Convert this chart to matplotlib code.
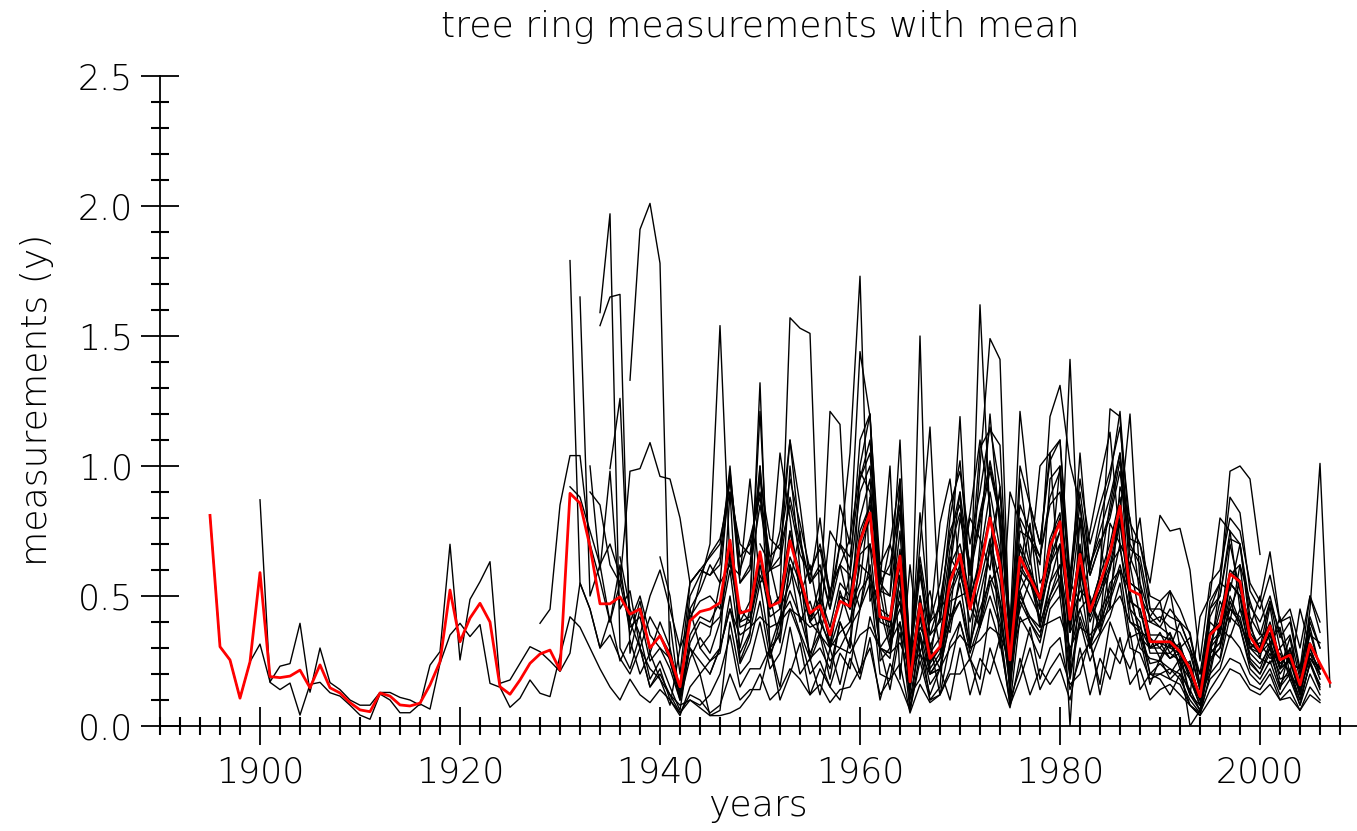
import matplotlib
matplotlib.use("Agg")
import matplotlib.pyplot as plt
from matplotlib import font_manager
from matplotlib.ticker import MultipleLocator, FormatStrFormatter

# ---- ring width series: (first year, yearly values) ----
ring_a_start = 1900
ring_a = [0.87, 0.168, 0.14, 0.165, 0.042, 0.16, 0.168, 0.128, 0.115, 0.08,
          0.042, 0.026, 0.123, 0.10, 0.051, 0.051, 0.085, 0.065, 0.241, 0.35,
          0.395, 0.344, 0.39, 0.164, 0.149, 0.072, 0.107, 0.177, 0.126, 0.113,
          0.27, 0.42, 0.38, 0.30, 0.22, 0.15, 0.10, 0.18, 0.12, 0.09,
          0.14, 0.10, 0.05, 0.10, 0.08, 0.12, 0.20, 0.35, 0.15, 0.22,
          0.22, 0.30, 0.15, 0.38, 0.20, 0.26, 0.12, 0.30, 0.16, 0.34,
          0.20, 0.42, 0.30, 0.14, 0.36, 0.12, 0.18, 0.32, 0.12, 0.22,
          0.40, 0.26, 0.18, 0.45, 0.32, 0.10, 0.22, 0.38, 0.18, 0.30,
          0.34, 0.14, 0.26, 0.32, 0.16, 0.40, 0.30, 0.22, 0.34, 0.16,
          0.26, 0.18, 0.22, 0.12, 0.06, 0.18, 0.22, 0.35, 0.30, 0.20,
          0.16, 0.22, 0.12, 0.18, 0.08, 0.20, 0.12]

ring_b_start = 1895
ring_b = [0.81, 0.305, 0.254, 0.107, 0.247,
          0.315, 0.17, 0.23, 0.24, 0.395, 0.13, 0.30, 0.167, 0.14, 0.10,
          0.08, 0.08, 0.129, 0.129, 0.11, 0.10, 0.08, 0.234, 0.286, 0.699,
          0.254, 0.487, 0.555, 0.632, 0.164, 0.177, 0.241, 0.305, 0.286, 0.25,
          0.21, 0.28, 0.55, 0.45, 0.30, 0.35, 0.26, 0.20, 0.30, 0.22,
          0.18, 0.12, 0.08, 0.10, 0.07, 0.04, 0.04, 0.05, 0.07, 0.12,
          0.20, 0.10, 0.14, 0.22, 0.18, 0.12, 0.16, 0.09, 0.14, 0.15,
          0.22, 0.30, 0.12, 0.18, 0.24, 0.05, 0.16, 0.09, 0.12, 0.20,
          0.20, 0.26, 0.12, 0.30, 0.18, 0.07, 0.26, 0.12, 0.22, 0.16,
          0.22, 0.10, 0.30, 0.12, 0.26, 0.18, 0.34, 0.16, 0.22, 0.10,
          0.14, 0.16, 0.12, 0.08, 0.04, 0.10, 0.15, 0.22, 0.20, 0.14,
          0.12, 0.16, 0.10, 0.11, 0.06, 0.12, 0.09]

ring_c_start = 1928
ring_c = [0.395, 0.449,
          0.85, 1.04, 1.04, 0.70, 0.56, 0.40, 0.62, 0.35, 0.48, 0.28,
          0.40, 0.30, 0.12, 0.45, 0.52, 0.62, 0.55, 0.98, 0.60, 0.72,
          0.88, 0.60, 0.75, 1.10, 0.72, 0.55, 0.80, 0.48, 0.85, 0.70,
          1.44, 1.19, 0.62, 0.70, 0.95, 0.25, 0.82, 0.40, 0.55, 0.85,
          0.98, 0.70, 0.90, 1.15, 0.92, 0.38, 1.21, 0.85, 0.70, 1.02,
          1.10, 0.58, 0.95, 0.70, 0.85, 0.98, 1.15, 0.78, 0.70, 0.50,
          0.48, 0.52, 0.45, 0.35, 0.15, 0.48, 0.55, 0.88, 0.82, 0.52,
          0.45, 0.58, 0.40, 0.42, 0.22, 0.50, 0.36]

ring_d_start = 1931
ring_d = [1.79, 0.55, 0.45, 0.30, 0.42, 0.25, 0.33, 0.20,
          0.28, 0.18, 0.08, 0.30, 0.40, 0.55, 0.70, 1.54, 0.62, 0.58,
          0.95, 0.55, 0.60, 1.05, 0.80, 0.50, 0.62, 0.40, 0.75, 0.68,
          1.05, 1.73, 0.48, 0.55, 1.00, 0.18, 0.62, 0.28, 0.40, 0.78,
          0.95, 0.60, 0.82, 1.10, 0.85, 0.30, 0.90, 0.78, 0.62, 1.00,
          1.05, 0.50, 1.41, 0.55, 0.75, 0.95, 1.13, 0.70, 0.62, 0.42,
          0.40, 0.38, 0.35, 0.28, 0.12, 0.42, 0.50, 0.80, 0.75, 0.45,
          0.38, 0.50, 0.32, 0.38, 0.20, 0.45, 0.30]

ring_e_start = 1932
ring_e = [1.65, 0.50, 0.62, 0.40, 0.55, 0.38, 0.42, 0.25,
          0.30, 0.22, 0.10, 0.26, 0.34, 0.28, 0.40, 0.60, 0.30, 0.45,
          1.32, 0.28, 0.36, 0.62, 0.50, 0.26, 0.30, 0.22, 0.40, 0.30,
          0.66, 0.70, 0.30, 0.26, 0.58, 0.12, 1.50, 0.20, 0.22, 0.40,
          0.55, 0.30, 0.50, 0.68, 0.44, 0.16, 0.52, 0.40, 0.34, 0.55,
          0.62, 0.26, 0.56, 0.30, 0.44, 0.52, 0.70, 0.40, 0.36, 0.24,
          0.25, 0.22, 0.20, 0.14, 0.06, 0.26, 0.30, 0.45, 0.42, 0.26,
          0.22, 0.32, 0.18, 0.20, 0.10, 0.24, 0.16]

ring_f_start = 1934
ring_f = [1.59, 1.97, 0.30, 0.22, 0.35, 0.18,
          0.25, 0.15, 0.06, 0.32, 0.40, 0.38, 0.42, 0.65, 0.38, 0.40,
          0.62, 0.42, 0.45, 0.65, 0.55, 0.40, 0.45, 1.21, 1.16, 0.45,
          0.68, 0.80, 0.40, 0.38, 0.62, 0.14, 0.45, 0.22, 0.28, 0.52,
          0.62, 0.45, 1.62, 0.80, 0.65, 0.22, 0.60, 0.55, 0.45, 0.65,
          0.75, 0.38, 0.62, 0.42, 0.52, 0.65, 0.82, 1.20, 0.55, 0.30,
          0.36, 0.28, 0.32, 0.18, 0.10, 0.30, 0.44, 0.58, 0.62, 0.30,
          0.34, 0.38, 0.22, 0.30, 0.14, 0.36, 0.22]

ring_g_start = 1934
ring_g = [1.54, 1.65, 1.66, 0.28, 0.45, 0.30,
          0.35, 0.25, 0.12, 0.42, 0.48, 0.50, 0.45, 0.70, 0.40, 0.48,
          1.21, 0.45, 0.50, 0.75, 0.58, 0.42, 0.48, 0.32, 0.50, 0.45,
          0.75, 0.85, 0.42, 0.40, 0.68, 0.16, 0.48, 0.24, 0.30, 0.58,
          0.65, 0.48, 1.00, 1.49, 1.41, 0.30, 0.68, 0.58, 0.50, 0.70,
          0.80, 0.42, 0.68, 0.45, 0.58, 0.70, 0.88, 0.55, 0.52, 0.34,
          0.30, 0.36, 0.26, 0.24, 0.10, 0.40, 0.36, 0.70, 0.52, 0.40,
          0.26, 0.46, 0.22, 0.34, 0.12, 0.38, 0.22]

ring_h_start = 1937
ring_h = [1.33, 1.91, 2.01,
          1.78, 0.25, 0.10, 0.35, 0.42, 0.40, 0.48, 0.68, 0.40, 0.42,
          0.65, 0.45, 0.50, 1.57, 1.53, 1.51, 0.45, 0.35, 0.50, 0.48,
          0.72, 0.85, 0.42, 0.40, 0.66, 0.18, 0.50, 0.25, 0.30, 0.58,
          1.19, 0.48, 0.65, 0.90, 0.68, 0.25, 0.70, 0.60, 0.50, 0.72,
          0.82, 0.40, 0.70, 0.45, 0.58, 1.22, 1.19, 0.55, 0.52, 0.35,
          0.35, 0.33, 0.30, 0.22, 0.12, 0.36, 0.40, 0.60, 0.56, 0.36,
          0.30, 0.40, 0.26, 0.28, 0.16, 0.32, 0.24]

ring_i_start = 1933
ring_i = [0.90, 0.85, 0.62, 0.55, 0.98, 0.99, 1.09,
          0.96, 0.95, 0.80, 0.55, 0.60, 0.58, 0.62, 0.95, 0.55, 0.60,
          0.85, 0.60, 0.62, 0.88, 0.70, 0.55, 0.60, 0.45, 0.62, 0.58,
          0.90, 1.00, 0.52, 0.50, 0.82, 0.25, 0.58, 0.35, 0.40, 0.68,
          0.82, 0.58, 0.78, 0.98, 0.80, 0.35, 0.80, 0.72, 0.62, 1.19,
          1.31, 1.01, 0.85, 0.58, 0.70, 0.82, 1.02, 0.68, 0.65, 0.45,
          0.45, 0.42, 0.40, 0.30, 0.20, 0.45, 0.55, 0.98, 1.00, 0.95,
          0.66]

ring_j_start = 1935
ring_j = [0.99, 1.26, 0.40, 0.30, 0.15,
          0.20, 0.12, 0.05, 0.12, 0.10, 0.05, 0.08, 0.20, 0.10, 0.14,
          0.14, 0.30, 0.10, 0.20, 0.32, 0.12, 0.22, 0.15, 0.10, 0.26,
          0.18, 0.34, 0.10, 0.24, 0.16, 0.06, 0.28, 0.12, 0.22, 0.10,
          0.30, 0.12, 0.26, 0.20, 0.34, 0.08, 0.18, 0.30, 0.14, 0.22,
          0.28, 0.16, 0.20, 0.34, 0.12, 0.30, 0.24, 0.36, 0.14, 0.20,
          0.18, 0.12, 0.20, 0.08, 0.05, 0.14, 0.20, 0.26, 0.24, 0.16,
          0.14, 0.20, 0.10, 0.14, 0.06, 0.15, 0.10]

ring_k_start = 1936
ring_k = [0.65, 0.45, 0.35, 0.50,
          0.60, 0.45, 0.30, 0.55, 0.60, 0.65, 0.70, 0.95, 0.65, 0.70,
          0.90, 0.65, 0.70, 0.95, 0.78, 0.60, 0.68, 0.50, 0.70, 0.65,
          0.95, 1.05, 0.60, 0.58, 0.90, 0.30, 0.65, 0.40, 0.45, 0.75,
          0.85, 0.62, 0.80, 1.02, 0.82, 0.40, 0.85, 0.75, 0.65, 0.88,
          0.98, 0.55, 0.90, 0.62, 0.75, 0.88, 1.05, 0.72, 0.70, 0.55,
          0.81, 0.75, 0.76, 0.60, 0.25, 0.55, 0.60, 0.80, 0.75, 0.55,
          0.48, 0.67, 0.40, 0.45, 0.30, 0.50, 0.40]

ring_l_start = 1938
ring_l = [0.30, 0.15,
          0.22, 0.10, 0.04, 0.15, 0.20, 0.04, 0.06, 0.40, 0.20, 0.25,
          0.40, 0.22, 0.28, 0.45, 0.35, 0.20, 0.25, 0.15, 0.28, 0.22,
          0.45, 0.55, 0.20, 0.18, 0.40, 0.06, 0.25, 0.10, 0.12, 0.32,
          0.40, 0.25, 0.38, 0.50, 0.38, 0.08, 0.42, 0.35, 0.26, 0.45,
          0.50, 0.18, 0.40, 0.25, 0.35, 0.42, 0.55, 0.30, 0.28, 0.18,
          0.20, 0.18, 0.16, 0.08, 0.04, 0.20, 0.25, 0.42, 0.38, 0.22,
          0.18, 0.25, 0.14, 0.30, 0.15, 0.45, 1.01, 0.15]

ring_m_start = 1940
ring_m = [0.65, 0.50, 0.20, 0.55, 0.60, 0.58, 0.65, 1.00, 0.55, 0.62,
          1.00, 0.60, 0.65, 1.10, 0.85, 0.55, 0.62, 0.45, 0.70, 0.60,
          1.10, 1.20, 0.55, 0.50, 1.10, 0.22, 0.70, 1.15, 0.40, 0.80,
          1.02, 0.58, 1.07, 1.14, 1.08, 0.32, 1.00, 0.85, 0.70, 1.05,
          1.10, 0.50, 1.05, 0.60, 0.80, 0.95, 1.21, 0.70, 0.62, 0.40,
          0.42, 0.38, 0.36, 0.28, 0.14, 0.42, 0.50, 0.75, 0.70, 0.42,
          0.35, 0.48, 0.30, 0.35, 0.18, 0.40]

ring_n_start = 1942
ring_n = [0.15, 0.45, 0.30, 0.35, 0.55, 0.62, 0.45, 0.40,
          0.58, 0.50, 0.32, 0.62, 0.40, 0.48, 0.35, 0.30, 0.52, 0.40,
          0.62, 0.58, 0.45, 0.30, 0.58, 0.22, 0.38, 0.30, 0.22, 0.48,
          0.50, 0.52, 0.38, 0.70, 0.48, 0.30, 0.52, 0.60, 0.38, 0.55,
          0.70, 0.40, 0.52, 0.48, 0.38, 0.62, 0.68, 0.50, 0.36, 0.34,
          0.26, 0.34, 0.22, 0.25, 0.10, 0.22, 0.40, 0.45, 0.55, 0.30,
          0.32, 0.26, 0.28, 0.20, 0.14, 0.30, 0.20]

ring_o_start = 1944
ring_o = [0.30, 0.25, 0.30, 0.45, 0.35, 0.38,
          0.42, 0.38, 0.40, 0.45, 0.42, 0.38, 0.40, 0.32, 0.30, 0.28,
          0.35, 0.38, 0.30, 0.28, 0.32, 0.22, 0.28, 0.20, 0.22, 0.30,
          0.35, 0.30, 0.33, 0.38, 0.35, 0.25, 0.40, 0.42, 0.38, 0.40,
          0.42, 0.30, 0.38, 0.35, 0.40, 0.45, 0.50, 0.40, 0.38, 0.30,
          0.32, 0.30, 0.28, 0.20, 0.10, 0.28, 0.32, 0.45, 0.40, 0.30,
          0.28, 0.32, 0.22, 0.26, 0.15, 0.26, 0.20]

ring_p_start = 1945
ring_p = [0.20, 0.30, 0.90, 0.25, 0.35,
          1.00, 0.30, 0.35, 1.00, 0.60, 0.25, 0.35, 0.18, 0.40, 0.30,
          1.00, 1.20, 0.25, 0.30, 0.95, 0.06, 0.35, 0.10, 0.15, 0.60,
          0.90, 0.30, 0.70, 1.20, 0.75, 0.10, 0.95, 0.65, 0.40, 0.95,
          1.00, 0.20, 0.80, 0.30, 0.60, 0.85, 1.05, 0.45, 0.40, 0.20,
          0.20, 0.22, 0.18, 0.10, 0.05, 0.25, 0.30, 0.55, 0.50, 0.25,
          0.20, 0.30, 0.15, 0.20, 0.08, 0.25, 0.15]

ring_q_start = 1950
ring_q = [0.70, 0.62, 0.45, 0.55, 0.75, 0.40, 0.35, 0.52, 0.62, 0.45,
          0.55, 0.88, 0.60, 0.35, 0.45, 0.30, 0.62, 0.25, 0.50, 0.42,
          0.80, 0.62, 0.40, 0.70, 0.90, 0.35, 0.55, 0.78, 0.45, 0.60,
          1.00, 0.55, 0.48, 0.62, 0.72, 0.45, 0.92, 0.80, 0.50, 0.42,
          0.48, 0.30, 0.40, 0.36, 0.16, 0.26, 0.55, 0.52, 0.70, 0.38,
          0.30, 0.48, 0.36, 0.24, 0.22, 0.40, 0.30]

ring_r_start = 1955
ring_r = [0.40, 0.55, 0.30, 0.42, 0.58,
          0.45, 0.70, 0.52, 0.32, 0.40, 0.22, 0.48, 0.30, 0.42, 0.36,
          0.58, 0.46, 0.38, 0.55, 0.62, 0.28, 0.45, 0.56, 0.40, 0.50,
          0.62, 0.36, 0.45, 0.50, 0.36, 0.55, 0.60, 0.52, 0.34, 0.30,
          0.32, 0.26, 0.30, 0.22, 0.12, 0.20, 0.38, 0.34, 0.45, 0.30,
          0.26, 0.24, 0.30, 0.18, 0.16, 0.26, 0.22]

ring_s_start = 1960
ring_s = [0.95, 1.10, 0.50, 0.70, 0.55, 0.28, 0.40, 0.52, 0.30, 0.65,
          0.58, 0.80, 0.72, 0.60, 0.92, 0.40, 0.60, 0.85, 0.55, 0.62,
          0.75, 0.55, 0.85, 0.48, 0.40, 0.78, 0.70, 0.62, 0.80, 0.45,
          0.40, 0.52, 0.30, 0.34, 0.20, 0.30, 0.48, 0.40, 0.62, 0.48,
          0.36, 0.30, 0.42, 0.24, 0.22, 0.35, 0.32]

ring_t_start = 1965
ring_t = [0.14, 0.42, 0.20, 0.26, 0.50,
          0.60, 0.40, 0.55, 0.72, 0.55, 0.18, 0.58, 0.50, 0.42, 0.62,
          0.70, 0.00, 0.60, 0.40, 0.50, 0.60, 0.78, 0.48, 0.45, 0.28,
          0.28, 0.28, 0.25, 0.00, 0.06, 0.30, 0.35, 0.55, 0.50, 0.32,
          0.28, 0.35, 0.22, 0.25, 0.12, 0.28, 0.22]

ring_u_start = 1931
ring_u = [0.92, 0.88, 0.75, 0.62, 0.70, 0.58, 0.40, 0.50, 0.35,
          0.30, 0.26, 0.14, 0.30, 0.25, 0.20, 0.30, 0.45, 0.28, 0.36,
          0.55, 0.30, 0.42, 0.48, 0.36, 0.26, 0.42, 0.30, 0.36, 0.40,
          0.52, 0.58, 0.30, 0.36, 0.48, 0.15, 0.36, 0.20, 0.26, 0.42,
          0.48, 0.32, 0.45, 0.56, 0.40, 0.20, 0.50, 0.42, 0.36, 0.48,
          0.55, 0.28, 0.45, 0.32, 0.40, 0.50, 0.62, 0.45, 0.30, 0.26,
          0.25, 0.32, 0.24, 0.18, 0.08, 0.28, 0.32, 0.50, 0.40, 0.28,
          0.24, 0.30, 0.20, 0.26, 0.12, 0.28, 0.18]

ring_v_start = 1933
ring_v = [1.00, 0.60, 0.98, 0.45, 0.52, 0.30, 0.42,
          0.35, 0.28, 0.15, 0.50, 0.58, 0.66, 0.72, 0.90, 0.70, 0.66,
          0.95, 0.72, 0.68, 0.85, 0.66, 0.58, 0.70, 0.52, 0.62, 0.72,
          0.98, 0.90, 0.55, 0.62, 0.85, 0.26, 0.62, 0.35, 0.48, 0.72,
          0.90, 0.60, 0.82, 1.00, 0.80, 0.32, 0.75, 0.72, 0.65, 0.85,
          0.90, 0.48, 0.80, 0.58, 0.70, 0.80, 0.98, 0.65, 0.55, 0.42,
          0.38, 0.45, 0.40, 0.30, 0.14, 0.45, 0.50, 0.72, 0.70, 0.46,
          0.40, 0.50, 0.34, 0.40, 0.20, 0.42, 0.30]

ring_w_start = 1941
ring_w = [0.40, 0.10, 0.30, 0.20, 0.25, 0.28, 0.50, 0.24, 0.32,
          0.48, 0.26, 0.40, 0.52, 0.42, 0.28, 0.36, 0.25, 0.30, 0.38,
          0.45, 0.62, 0.30, 0.28, 0.52, 0.10, 0.34, 0.16, 0.22, 0.40,
          0.48, 0.28, 0.40, 0.58, 0.48, 0.14, 0.48, 0.40, 0.32, 0.50,
          0.58, 0.20, 0.42, 0.30, 0.36, 0.48, 0.60, 0.34, 0.36, 0.20,
          0.24, 0.20, 0.26, 0.12, 0.08, 0.30, 0.26, 0.48, 0.38, 0.24,
          0.20, 0.28, 0.16, 0.22, 0.10, 0.24, 0.14]

ring_x_start = 1952
ring_x = [0.40, 0.75, 0.55, 0.40, 0.50, 0.38, 0.55, 0.50,
          0.80, 0.95, 0.45, 0.42, 0.75, 0.18, 0.50, 0.28, 0.34, 0.62,
          0.70, 0.50, 0.62, 0.82, 0.60, 0.22, 0.62, 0.55, 0.48, 0.70,
          0.78, 0.36, 0.62, 0.45, 0.52, 0.62, 0.80, 0.48, 0.45, 0.30,
          0.30, 0.26, 0.28, 0.18, 0.08, 0.32, 0.36, 0.55, 0.50, 0.32,
          0.28, 0.36, 0.24, 0.28, 0.12, 0.30, 0.20]

# ---- yearly mean of all series ----
mean_start = 1895
mean_vals = [0.81, 0.305, 0.254, 0.107, 0.247,
             0.59, 0.19, 0.186, 0.192, 0.215, 0.147, 0.235, 0.147, 0.127, 0.09,
             0.062, 0.055, 0.127, 0.115, 0.081, 0.077, 0.088, 0.158, 0.247, 0.523,
             0.324, 0.415, 0.472, 0.40, 0.151, 0.122, 0.177, 0.241, 0.277, 0.292,
             0.215, 0.895, 0.857, 0.69, 0.47, 0.47, 0.497, 0.43, 0.45, 0.30,
             0.347, 0.267, 0.151, 0.405, 0.44, 0.45, 0.474, 0.715, 0.434, 0.446,
             0.67, 0.46, 0.478, 0.713, 0.574, 0.434, 0.463, 0.35, 0.48, 0.46,
             0.71, 0.82, 0.42, 0.41, 0.654, 0.17, 0.47, 0.26, 0.305, 0.555,
             0.66, 0.45, 0.60, 0.80, 0.62, 0.254, 0.65, 0.57, 0.49, 0.69,
             0.786, 0.41, 0.66, 0.44, 0.55, 0.665, 0.846, 0.523, 0.504, 0.324,
             0.324, 0.324, 0.286, 0.22, 0.113, 0.35, 0.39, 0.585, 0.555, 0.344,
             0.286, 0.385, 0.254, 0.273, 0.158, 0.315, 0.24, 0.167]

series = [
    (ring_a_start, ring_a), (ring_b_start, ring_b), (ring_c_start, ring_c),
    (ring_d_start, ring_d), (ring_e_start, ring_e), (ring_f_start, ring_f),
    (ring_g_start, ring_g), (ring_h_start, ring_h), (ring_i_start, ring_i),
    (ring_j_start, ring_j), (ring_k_start, ring_k), (ring_l_start, ring_l),
    (ring_m_start, ring_m), (ring_n_start, ring_n), (ring_o_start, ring_o),
    (ring_p_start, ring_p), (ring_q_start, ring_q), (ring_r_start, ring_r),
    (ring_s_start, ring_s), (ring_t_start, ring_t), (ring_u_start, ring_u),
    (ring_v_start, ring_v), (ring_w_start, ring_w), (ring_x_start, ring_x),
]

# thin strokes: use an extra-light DejaVu face if one is installed
light_ok = any('DejaVuSans-ExtraLight' in f or 'DejaVuSans-Light' in f
               for f in font_manager.findSystemFonts())
plt.rcParams['font.family'] = ['DejaVu Sans']
plt.rcParams['font.weight'] = 'light' if light_ok else 'normal'

W, H = 1357, 831
fig = plt.figure(figsize=(W / 100, H / 100), dpi=100)
# axes box in pixels: x 160..1360, y 76..726
ax = fig.add_axes([160 / W, (H - 726) / H, 1200 / W, 650 / H])

for start, vals in series:
    yrs = list(range(start, start + len(vals)))
    ax.plot(yrs, vals, color='black', lw=1.0)

mean_years = list(range(mean_start, mean_start + len(mean_vals)))
ax.plot(mean_years, mean_vals, color='red', lw=2.0)

ax.set_xlim(1890, 2010)
ax.set_ylim(0, 2.5)

for side in ('top', 'right'):
    ax.spines[side].set_visible(False)
for side in ('left', 'bottom'):
    ax.spines[side].set_linewidth(1.3)

ax.xaxis.set_minor_locator(MultipleLocator(2))
ax.yaxis.set_major_locator(MultipleLocator(0.5))
ax.yaxis.set_minor_locator(MultipleLocator(0.1))
ax.yaxis.set_major_formatter(FormatStrFormatter('%.1f'))
ax.set_xticks([1900, 1920, 1940, 1960, 1980, 2000])

ax.tick_params(which='major', direction='inout', length=27, width=1.3,
               labelsize=25, colors='black')
ax.tick_params(which='minor', direction='inout', length=13, width=1.5)
ax.tick_params(axis='x', which='major', pad=8)
ax.tick_params(axis='y', which='major', pad=6)

fig.text(760 / W, 1 - 27 / H, 'tree ring measurements with mean',
         ha='center', va='center', fontsize=26)
fig.text(758 / W, 1 - 806 / H, 'years', ha='center', va='center', fontsize=26)
fig.text(37 / W, 1 - 400 / H, 'measurements (y)', ha='center', va='center',
         rotation=90, fontsize=26)

fig.savefig('out.png', dpi=100)
